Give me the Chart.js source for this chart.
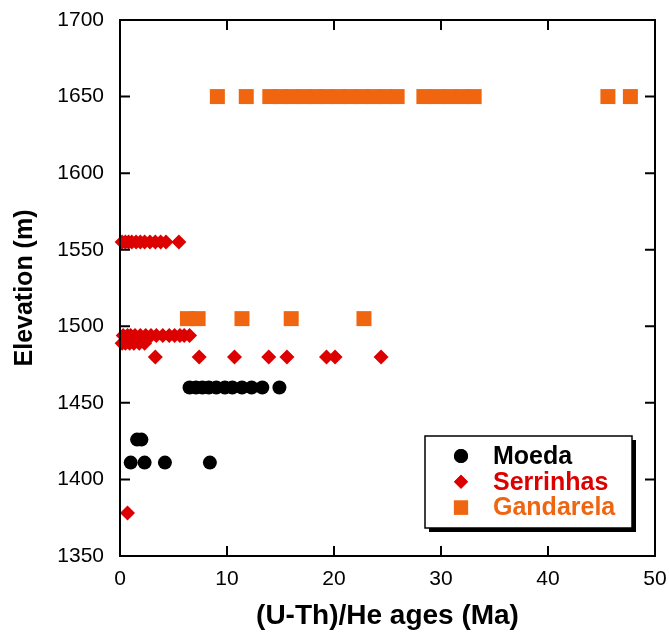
<!DOCTYPE html>
<html>
<head>
<meta charset="utf-8">
<title>(U-Th)/He ages vs elevation</title>
<script src="https://cdn.jsdelivr.net/npm/chart.js@4.4.0/dist/chart.umd.min.js"></script>
<style>
body{margin:0;background:#fff}
</style>
</head>
<body>
<canvas id="myChart" width="669" height="633"></canvas>
<script>
// values: age (Ma) and elevation (m)
var moedaAge  = [6.5,7.1,7.7,8.3,9.0,9.8,10.5,11.4,12.3,13.3,14.9, 1.6,2.0, 1.0,2.3,4.2,8.4];
var moedaElev = [1460,1460,1460,1460,1460,1460,1460,1460,1460,1460,1460, 1426,1426, 1411,1411,1411,1411];

var serrAge  = [0.2,0.5,0.8,1.1,1.5,1.9,2.3,2.8,3.3,3.8,4.3,5.5,
                0.3,0.7,1.0,1.4,1.9,2.4,2.9,3.4,4.0,4.6,5.1,5.6,6.0,6.5,
                0.2,0.5,0.9,1.3,1.8,2.3,
                3.3,7.4,10.7,13.9,15.6,19.3,20.1,24.4,
                0.7];
var serrElev = [1555,1555,1555,1555,1555,1555,1555,1555,1555,1555,1555,1555,
                1494,1494,1494,1494,1494,1494,1494,1494,1494,1494,1494,1494,1494,1494,
                1489,1489,1489,1489,1489,1489,
                1480,1480,1480,1480,1480,1480,1480,1480,
                1378];

var gandAge  = [9.1,11.8,14.0,15.0,16.1,17.2,18.3,19.3,20.4,21.5,22.6,23.7,24.8,25.9,
                28.4,29.6,30.8,32.0,33.1,45.6,47.7,
                6.3,7.3,11.4,16.0,22.8];
var gandElev = [1650,1650,1650,1650,1650,1650,1650,1650,1650,1650,1650,1650,1650,1650,
                1650,1650,1650,1650,1650,1650,1650,
                1505,1505,1505,1505,1505];

var xTicks = [0,10,20,30,40,50];
var yTicks = [1350,1400,1450,1500,1550,1600,1650,1700];

function pts(a, e){
	var out = [];
	for(var i=0;i<a.length;i++) out.push({x:a[i], y:e[i]});
	return out;
}

var RED = '#dd0000', ORANGE = '#f0650f';
var FONT = '"Liberation Sans", Arial, sans-serif';

// frame + inward tick marks
var frame = {
	id:'frame',
	afterDatasetsDraw:function(chart){
		var c = chart.ctx, a = chart.chartArea, sx = chart.scales.x, sy = chart.scales.y;
		c.save();
		c.strokeStyle = '#000';
		c.lineWidth = 2;
		c.beginPath();
		xTicks.forEach(function(v){
			var p = sx.getPixelForValue(v);
			c.moveTo(p, a.bottom); c.lineTo(p, a.bottom-10);
			c.moveTo(p, a.top); c.lineTo(p, a.top+10);
		});
		yTicks.forEach(function(v){
			var p = sy.getPixelForValue(v);
			c.moveTo(a.left, p); c.lineTo(a.left+10, p);
			c.moveTo(a.right, p); c.lineTo(a.right-10, p);
		});
		c.stroke();
		c.strokeRect(a.left, a.top, a.right-a.left, a.bottom-a.top);
		c.restore();
	}
};

// boxed legend with drop shadow, drawn inside the plot
var boxLegend = {
	id:'boxLegend',
	afterDraw:function(chart){
		var c = chart.ctx;
		var bx = 425, by = 436, bw = 207, bh = 92;
		c.save();
		c.fillStyle = '#000';
		c.fillRect(bx+4, by+4, bw, bh);
		c.fillStyle = '#fff';
		c.fillRect(bx, by, bw, bh);
		c.strokeStyle = '#000';
		c.lineWidth = 1.5;
		c.strokeRect(bx, by, bw, bh);
		c.font = 'bold 25px ' + FONT;
		c.textBaseline = 'middle';
		c.textAlign = 'left';
		chart.data.datasets.forEach(function(ds, i){
			var y = by + 20 + i*25.8;
			c.fillStyle = ds.backgroundColor;
			Chart.helpers.drawPoint(c, {pointStyle:ds.pointStyle, radius:ds.legendRadius, borderWidth:0}, 461, y);
			c.fill();
			c.fillText(ds.label, 493, y+1);
		});
		c.restore();
	}
};

var ctx = document.getElementById('myChart');
var myChart = new Chart(ctx, {
	type:'scatter',
	data:{datasets:[
		{label:'Moeda', data:pts(moedaAge, moedaElev), pointStyle:'circle', pointRadius:7, legendRadius:7,
		 backgroundColor:'#000', borderColor:'#000', borderWidth:0, clip:false},
		{label:'Serrinhas', data:pts(serrAge, serrElev), pointStyle:'rectRot', pointRadius:7.5, legendRadius:7,
		 backgroundColor:RED, borderColor:RED, borderWidth:0, clip:false},
		{label:'Gandarela', data:pts(gandAge, gandElev), pointStyle:'rect', pointRadius:10.6, legendRadius:10,
		 backgroundColor:ORANGE, borderColor:ORANGE, borderWidth:0, clip:false}
	]},
	options:{
		responsive:false,
		animation:false,
		events:[],
		layout:{padding:{top:20, right:14, left:0, bottom:0}},
		plugins:{legend:{display:false}, tooltip:{enabled:false}},
		scales:{
			x:{
				type:'linear', min:0, max:50,
				afterFit:function(s){ s.height = 77; s.paddingLeft = 0; s.paddingRight = 0; },
				afterBuildTicks:function(s){ s.ticks = xTicks.map(function(v){ return {value:v}; }); },
				grid:{display:false, drawTicks:false},
				border:{display:false},
				ticks:{color:'#000', padding:11, maxRotation:0, autoSkip:false,
					callback:function(v){ return String(v); },
					font:{family:FONT, size:21}},
				title:{display:true, text:'(U-Th)/He ages (Ma)', color:'#000', padding:{top:0, bottom:0},
					font:{family:FONT, size:28, weight:'bold'}}
			},
			y:{
				type:'linear', min:1350, max:1700,
				afterFit:function(s){ s.width = 120; s.paddingTop = 0; s.paddingBottom = 0; },
				afterBuildTicks:function(s){ s.ticks = yTicks.map(function(v){ return {value:v}; }); },
				grid:{display:false, drawTicks:false},
				border:{display:false},
				ticks:{color:'#000', padding:16,
					callback:function(v){ return String(v); },
					font:{family:FONT, size:21}},
				title:{display:true, text:'Elevation (m)', color:'#000', padding:{top:10, bottom:0},
					font:{family:FONT, size:25, weight:'bold'}}
			}
		}
	},
	plugins:[frame, boxLegend]
});
</script>
</body>
</html>
